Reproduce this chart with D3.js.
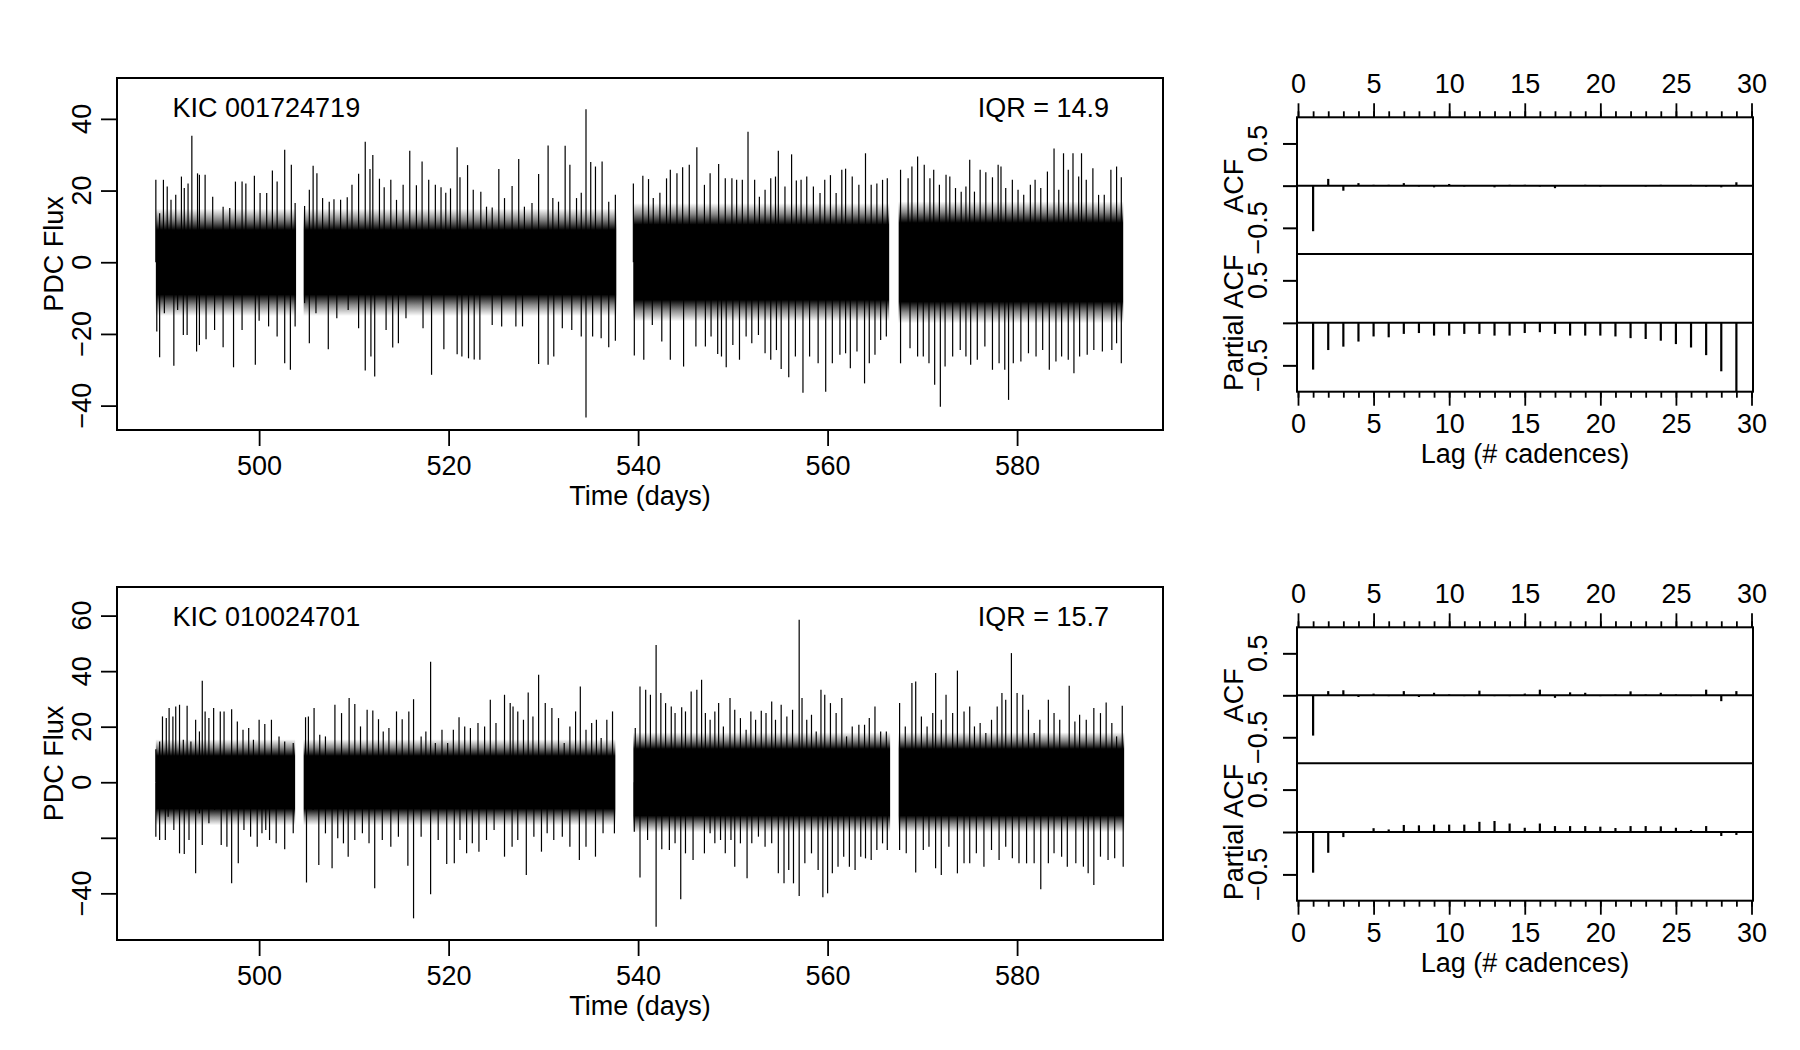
<!DOCTYPE html>
<html lang="en">
<head>
<meta charset="UTF-8">
<title>KIC light curves and ACF</title>
<script src="https://cdn.jsdelivr.net/npm/d3@7"></script>
<style>
  body { margin: 0; background: #fff; }
  svg { display: block; font-family: "Liberation Sans", Arial, Helvetica, sans-serif; }
</style>
</head>
<body>
<svg id="chart" width="1800" height="1050"></svg>
<script>
// ---- data ----
var timeTicks = [500, 520, 540, 560, 580];
var lagMajor = [0, 5, 10, 15, 20, 25, 30];
var lagMinor = d3.range(0, 31);
var lags = d3.range(1, 30);

var starNames = ["KIC 001724719", "KIC 010024701"];
var iqrLabels = ["IQR = 14.9", "IQR = 15.7"];

// observed stretches [start, end] in days
var segments1 = [[489.1, 503.9], [504.7, 537.7], [539.5, 566.5], [567.5, 591.2]];
var segments2 = [[489.1, 503.8], [504.7, 537.6], [539.5, 566.6], [567.5, 591.3]];
// half-width of the solid part of the scatter per stretch
var core1 = [9, 9, 10.5, 11];
var core2 = [9.5, 9.5, 12, 12];

// upper and lower excursions [time, flux]
var peaks1 = [[489.1,23.0],[489.5,13.7],[489.9,23.0],[490.3,21.1],[490.7,17.4],[491.2,18.8],[491.8,23.9],[492.1,20.7],[492.5,22.0],[492.9,35.3],[493.5,24.8],[493.7,24.4],[494.3,24.4],[495.1,18.3],[496.2,15.5],[496.9,15.1],[497.5,22.5],[498.2,22.5],[498.6,22.0],[499.5,24.1],[500.1,19.3],[500.8,19.3],[501.4,25.6],[501.9,22.5],[502.7,31.4],[503.4,27.2],[503.8,16.5],
  [504.8,15.7],[505.3,20.2],[505.7,26.9],[506.1,24.8],[506.7,17.9],[507.4,16.9],[507.9,17.6],[508.6,17.4],[509.3,18.1],[509.8,21.6],[510.5,24.7],[511.2,33.6],[511.7,26.0],[512.0,29.9],[512.7,23.3],[513.2,20.9],[513.9,23.0],[514.5,17.4],[515.2,21.6],[515.9,31.1],[516.6,21.5],[517.2,28.1],[517.9,23.0],[518.6,21.6],[519.2,20.9],[519.7,19.4],[520.2,20.6],[520.9,32.1],[521.2,23.7],[522.0,27.1],[522.6,20.2],[523.4,19.7],[524.0,15.5],[524.6,15.3],[525.3,26.0],[525.9,17.9],[526.7,21.3],[527.4,28.8],[528.0,15.5],[528.8,16.5],[529.5,24.6],[530.5,32.6],[531.0,17.9],[531.6,16.9],[532.3,32.5],[532.8,27.2],[533.5,17.9],[534.0,19.4],[534.5,42.7],[535.0,28.0],[535.5,26.7],[536.2,28.1],[536.9,16.9],[537.6,18.8],
  [539.5,22.0],[540.5,24.1],[541.1,23.2],[541.6,17.9],[542.3,19.4],[543.0,23.4],[543.4,25.8],[544.1,24.8],[544.7,26.5],[545.4,27.2],[546.2,32.1],[547.0,21.6],[547.6,24.8],[548.5,27.4],[549.2,23.4],[549.9,23.4],[550.4,23.0],[551.0,23.0],[551.6,36.4],[552.3,23.0],[552.8,18.3],[553.4,20.2],[554.0,23.4],[554.5,23.9],[554.8,31.1],[555.5,21.1],[556.2,30.1],[556.7,22.8],[557.2,23.0],[557.8,23.9],[558.5,21.1],[559.2,19.3],[559.7,23.0],[560.3,24.3],[560.9,19.3],[561.5,25.8],[561.9,26.1],[562.6,23.9],[563.3,21.6],[564.0,30.4],[564.6,21.6],[565.2,22.0],[565.8,23.0],[566.3,23.4],
  [567.7,25.8],[568.5,23.4],[568.9,26.7],[569.5,29.5],[570.2,27.2],[570.8,23.4],[571.2,25.8],[571.8,21.6],[572.5,24.4],[572.9,23.9],[573.5,20.7],[574.1,19.7],[574.6,21.1],[575.0,28.6],[575.5,19.7],[576.1,25.8],[576.7,25.1],[577.4,23.7],[578.0,27.2],[578.3,26.7],[578.8,20.7],[579.5,23.0],[580.1,20.2],[580.7,18.8],[581.4,21.6],[581.9,23.0],[582.5,20.7],[583.2,25.3],[583.9,31.7],[584.4,20.2],[584.9,30.4],[585.4,25.8],[585.9,30.4],[586.5,23.9],[586.8,30.4],[587.3,23.0],[588.0,26.2],[588.6,18.8],[589.2,18.8],[589.9,25.8],[590.5,26.7],[591.0,23.7]];

var troughs1 = [[489.2,-19.3],[489.5,-26.5],[490.0,-14.2],[491.0,-28.9],[491.4,-13.3],[492.0,-20.3],[492.4,-20.3],[493.4,-24.9],[493.7,-23.1],[494.4,-21.5],[495.3,-18.9],[496.2,-23.7],[497.3,-29.3],[498.2,-18.9],[499.6,-28.6],[500.0,-16.3],[501.0,-17.9],[501.9,-20.7],[502.7,-28.2],[503.3,-30.0],[503.8,-17.9],
  [504.8,-11.4],[505.3,-22.6],[506.0,-14.2],[507.3,-24.3],[508.2,-15.6],[509.4,-13.3],[510.5,-18.4],[511.2,-30.2],[511.8,-26.3],[512.2,-31.9],[513.4,-18.9],[514.1,-23.8],[514.7,-22.6],[515.5,-15.6],[517.3,-18.4],[518.2,-31.4],[519.5,-24.3],[520.9,-25.7],[521.4,-26.3],[522.1,-26.8],[522.7,-27.1],[523.3,-27.2],[524.6,-17.5],[525.6,-17.9],[527.1,-17.9],[527.8,-17.9],[529.5,-28.4],[530.5,-28.6],[531.1,-26.3],[532.0,-18.4],[533.0,-18.9],[534.0,-20.7],[534.5,-43.3],[535.2,-20.7],[536.1,-21.2],[536.9,-23.7],[537.6,-21.9],
  [539.6,-26.0],[540.6,-27.2],[541.5,-17.5],[542.5,-22.1],[543.4,-27.2],[544.8,-29.1],[546.1,-23.5],[547.1,-23.5],[547.7,-20.7],[548.4,-25.6],[548.8,-26.3],[549.3,-29.3],[550.0,-23.1],[550.7,-27.2],[551.4,-20.7],[552.0,-22.6],[552.7,-20.3],[553.4,-25.4],[554.0,-27.2],[554.6,-24.5],[555.1,-29.8],[555.9,-32.1],[556.6,-26.3],[557.4,-36.4],[558.1,-26.3],[559.0,-28.2],[559.8,-36.1],[560.5,-28.2],[561.3,-25.8],[561.9,-25.4],[562.4,-29.6],[563.1,-24.9],[563.9,-33.8],[564.4,-28.2],[565.0,-25.8],[565.6,-21.7],[566.2,-20.7],
  [567.7,-28.2],[568.7,-24.0],[569.5,-26.3],[570.1,-26.3],[570.7,-28.2],[571.3,-34.2],[571.9,-40.3],[572.4,-29.1],[573.2,-26.3],[574.0,-24.5],[574.6,-26.3],[575.1,-28.6],[575.8,-27.2],[576.6,-23.5],[577.4,-30.0],[578.1,-28.2],[578.7,-30.0],[579.1,-38.4],[579.6,-28.2],[580.4,-27.7],[581.2,-25.4],[582.0,-26.3],[582.7,-24.5],[583.4,-30.0],[584.1,-27.7],[584.7,-26.3],[585.4,-27.2],[586.0,-31.0],[586.6,-26.3],[587.4,-25.8],[588.1,-24.5],[589.0,-24.9],[590.0,-24.5],[590.5,-22.6],[591.0,-28.2]];

var peaks2 = [[489.1,11.9],[489.5,14.7],[489.8,23.7],[490.2,23.1],[490.5,26.7],[490.9,23.7],[491.2,27.3],[491.6,27.9],[492.0,15.3],[492.4,27.5],[492.8,14.7],[493.3,22.5],[493.7,18.3],[494.0,36.5],[494.3,25.5],[494.7,23.1],[495.2,26.7],[495.9,25.5],[496.3,25.5],[497.1,26.3],[497.7,21.9],[498.3,18.9],[498.9,19.5],[499.4,15.3],[500.0,22.5],[500.6,21.0],[501.3,22.5],[502.1,16.5],[502.7,14.7],[503.6,14.1],
  [504.9,23.4],[505.2,23.7],[505.8,26.7],[506.4,17.1],[507.0,16.5],[508.0,27.9],[508.7,24.9],[509.5,30.3],[510.1,28.2],[510.7,20.1],[511.4,26.1],[512.0,25.8],[512.6,22.7],[513.1,18.3],[513.7,19.5],[514.5,25.5],[515.1,22.7],[515.8,25.5],[516.3,29.9],[517.1,16.5],[517.6,18.3],[518.1,43.4],[518.6,14.1],[519.3,18.9],[519.9,14.1],[520.5,18.9],[521.1,23.4],[521.7,20.1],[522.3,19.5],[523.1,21.3],[523.8,20.1],[524.4,29.7],[525.0,21.3],[525.9,31.5],[526.5,28.5],[526.8,27.3],[527.3,25.5],[527.9,22.5],[528.4,32.3],[528.9,23.7],[529.5,38.7],[530.2,28.5],[530.9,26.7],[531.6,23.1],[532.2,14.1],[532.8,20.1],[533.4,25.5],[533.9,34.5],[534.5,18.9],[535.1,21.3],[535.6,22.5],[536.1,15.9],[536.7,22.5],[537.3,25.5],
  [539.7,19.5],[540.2,34.5],[540.8,33.3],[541.3,31.5],[541.9,49.4],[542.4,32.1],[542.9,28.5],[543.5,27.3],[543.9,24.9],[544.6,27.0],[545.0,25.5],[545.6,32.7],[546.2,33.3],[546.7,36.9],[547.1,24.9],[547.6,22.5],[548.1,25.5],[548.5,28.5],[549.0,20.1],[549.7,30.3],[550.2,26.1],[550.8,23.1],[551.4,18.9],[551.9,25.5],[552.4,22.5],[553.0,25.7],[553.5,24.9],[554.1,29.1],[554.5,22.5],[555.1,27.9],[555.7,23.7],[556.3,26.1],[557.0,58.5],[557.3,30.3],[557.8,22.5],[558.3,24.3],[558.8,18.3],[559.3,33.3],[559.7,31.5],[560.3,28.5],[560.9,24.9],[561.5,30.3],[562.0,16.5],[562.6,20.1],[563.3,20.7],[563.9,20.7],[564.4,23.1],[565.0,27.3],[565.6,18.3],[566.2,18.3],
  [567.6,28.5],[568.2,20.1],[568.9,35.7],[569.3,36.3],[569.9,23.7],[570.5,20.1],[571.1,24.9],[571.4,39.3],[572.0,22.5],[572.5,31.5],[573.2,24.9],[573.7,40.2],[574.4,25.5],[575.0,27.3],[575.5,20.1],[576.1,21.3],[576.7,17.7],[577.3,22.5],[577.9,27.3],[578.4,32.1],[578.8,29.7],[579.4,46.5],[580.0,32.1],[580.6,31.5],[581.2,26.1],[581.8,17.7],[582.4,22.5],[583.3,29.7],[583.9,24.9],[584.5,22.5],[585.5,34.7],[586.1,21.9],[586.6,24.3],[587.3,22.5],[588.1,26.7],[588.8,24.9],[589.4,28.7],[590.0,21.3],[590.5,16.5],[591.1,27.5]];

var troughs2 = [[489.1,-19.6],[489.5,-20.8],[490.1,-20.8],[490.4,-12.4],[491.0,-17.2],[491.6,-25.6],[492.1,-25.8],[492.6,-20.8],[493.3,-32.8],[493.7,-11.2],[494.0,-22.6],[494.7,-14.8],[495.3,-10.0],[496.0,-22.6],[496.6,-23.2],[497.1,-36.4],[497.8,-29.2],[498.4,-17.2],[499.1,-19.6],[499.8,-23.2],[500.3,-18.4],[500.7,-17.2],[501.1,-20.8],[501.8,-22.0],[502.7,-24.1],[503.6,-18.4],
  [505.0,-36.1],[505.7,-10.0],[506.3,-29.8],[507.0,-18.4],[507.7,-31.0],[508.3,-20.2],[508.9,-22.0],[509.4,-26.8],[510.1,-20.8],[510.9,-18.4],[511.6,-22.0],[512.2,-38.2],[513.0,-20.8],[513.9,-23.2],[514.7,-19.6],[515.7,-30.1],[516.3,-49.0],[517.1,-19.6],[518.1,-40.3],[518.9,-20.8],[519.8,-29.4],[520.6,-29.2],[521.2,-20.8],[521.9,-25.6],[522.5,-22.0],[523.2,-25.0],[524.0,-20.8],[524.8,-17.2],[525.9,-26.8],[526.7,-23.2],[527.3,-20.8],[528.2,-33.4],[529.0,-19.6],[529.8,-25.0],[530.4,-18.4],[531.1,-20.8],[532.0,-19.6],[532.8,-23.2],[533.8,-28.0],[534.5,-23.2],[535.5,-26.8],[536.3,-18.4],[537.5,-18.4],
  [539.6,-17.8],[540.2,-34.3],[541.0,-20.8],[541.9,-52.0],[542.5,-24.1],[543.3,-24.4],[543.9,-22.0],[544.5,-42.1],[545.0,-25.6],[545.8,-28.0],[547.0,-25.6],[547.6,-18.4],[548.1,-22.0],[548.7,-20.8],[549.2,-25.6],[549.8,-20.8],[550.2,-30.4],[550.8,-22.0],[551.5,-34.6],[552.0,-22.0],[552.7,-19.6],[553.4,-23.2],[554.1,-22.0],[554.8,-32.8],[555.4,-36.4],[555.9,-31.6],[556.4,-36.4],[557.0,-41.0],[557.6,-29.2],[558.3,-25.6],[559.0,-31.6],[559.5,-41.4],[560.0,-40.0],[560.5,-32.8],[561.1,-30.4],[561.7,-26.8],[562.3,-30.4],[562.9,-31.6],[563.5,-26.8],[564.0,-27.4],[564.6,-28.0],[565.2,-24.4],[565.8,-22.0],[566.3,-24.4],
  [567.6,-24.4],[568.3,-25.6],[569.3,-32.5],[570.1,-24.4],[570.7,-23.2],[571.4,-31.0],[572.0,-33.4],[572.8,-23.2],[573.7,-32.8],[574.4,-29.2],[575.0,-29.2],[575.7,-25.6],[576.5,-30.4],[577.3,-24.4],[578.1,-28.0],[578.8,-23.2],[579.5,-27.4],[580.2,-29.2],[581.0,-29.2],[581.8,-29.2],[582.5,-38.5],[583.3,-29.2],[583.9,-25.6],[584.7,-26.8],[585.3,-30.4],[586.2,-29.2],[587.0,-30.4],[587.5,-32.8],[588.1,-37.0],[588.8,-26.8],[589.6,-28.0],[590.3,-27.4],[591.2,-30.4]];

// autocorrelations, lags 1..29
var acf1 = [-0.54, 0.08, -0.06, 0.03, 0.01, 0.01, 0.03, -0.01, -0.02, 0.02, -0.01, 0.00, -0.02, 0.01, 0.01, -0.01, -0.03, 0.00, 0.01, -0.01, 0.00, 0.00, -0.01, 0.01, 0.00, 0.01, -0.01, -0.02, 0.04];
var pacf1 = [-0.55, -0.32, -0.28, -0.22, -0.16, -0.17, -0.13, -0.12, -0.15, -0.15, -0.13, -0.13, -0.15, -0.15, -0.12, -0.11, -0.13, -0.15, -0.15, -0.15, -0.16, -0.18, -0.19, -0.21, -0.25, -0.29, -0.38, -0.57, -0.81];
var acf2 = [-0.48, 0.05, 0.06, -0.02, 0.02, -0.01, 0.05, -0.02, 0.03, 0.01, -0.01, 0.055, -0.01, -0.01, 0.02, 0.067, -0.03, 0.035, 0.03, -0.01, 0.01, 0.047, 0.01, 0.03, 0.01, -0.01, 0.067, -0.07, 0.05];
var pacf2 = [-0.48, -0.245, -0.06, 0.01, 0.045, 0.03, 0.083, 0.079, 0.087, 0.087, 0.087, 0.12, 0.13, 0.10, 0.05, 0.10, 0.07, 0.07, 0.07, 0.063, 0.047, 0.07, 0.07, 0.067, 0.05, 0.024, 0.07, -0.047, -0.035];

// ---- drawing ----
var svg = d3.select("#chart");
svg.append("rect").attr("width", 1800).attr("height", 1050).attr("fill", "#fff");
var defs = svg.append("defs");
var FS = 27;
var FADE = 6;   // flux units over which the dense scatter thins out
var gradId = 0;
var minus = function(v) { return String(v).replace("-", "\u2212"); };

function styleAxis(g, width) {
    g.select(".domain").remove();
    g.selectAll("line").attr("stroke", "#000").attr("stroke-width", width);
    g.selectAll("text").attr("font-size", FS).attr("font-family", null).attr("fill", "#000");
}

function bandGradient(c) {
    var id = "band" + (gradId++);
    var f = FADE / (2 * (c + FADE));
    var grad = defs.append("linearGradient").attr("id", id)
        .attr("x1", 0).attr("y1", 0).attr("x2", 0).attr("y2", 1);
    [[0, 0], [f * 0.5, 0.45], [f, 1], [1 - f, 1], [1 - f * 0.5, 0.45], [1, 0]].forEach(function(s) {
        grad.append("stop").attr("offset", s[0]).attr("stop-color", "#000").attr("stop-opacity", s[1]);
    });
    return "url(#" + id + ")";
}

function seriesPanel(p) {
    var x = d3.scaleLinear().domain([485.0, 595.4]).range([117, 1163]);
    var y = d3.scaleLinear().domain(p.yDomain).range([p.bottom, p.top]);
    var g = svg.append("g");

    // dense middle of the scatter in each stretch
    p.segments.forEach(function(s, i) {
        var h = p.core[i] + FADE;
        g.append("rect").attr("x", x(s[0])).attr("width", x(s[1]) - x(s[0]))
            .attr("y", y(h)).attr("height", y(-h) - y(h))
            .attr("fill", bandGradient(p.core[i]));
    });

    // each excursion as a spike out of the scatter
    var spikes = p.peaks.concat(p.troughs);
    g.selectAll("line.spike").data(spikes).enter().append("line")
        .attr("class", "spike")
        .attr("x1", function(d) { return x(d[0]); })
        .attr("x2", function(d) { return x(d[0]); })
        .attr("y1", y(0))
        .attr("y2", function(d) { return y(d[1]); })
        .attr("stroke", "#000").attr("stroke-width", 1.2);

    // box
    g.append("rect").attr("x", 117).attr("y", p.top).attr("width", 1163 - 117).attr("height", p.bottom - p.top)
        .attr("fill", "none").attr("stroke", "#000").attr("stroke-width", 2);

    var ax = g.append("g").attr("transform", "translate(0," + p.bottom + ")")
        .call(d3.axisBottom(x).tickValues(timeTicks).tickSize(16).tickPadding(9.5).tickSizeOuter(0));
    styleAxis(ax, 1.8);

    var ay = g.append("g").attr("transform", "translate(117,0)")
        .call(d3.axisLeft(y).tickValues(p.yTicks).tickSize(16).tickFormat("").tickSizeOuter(0));
    styleAxis(ay, 1.8);

    p.yTicks.forEach(function(v, i) {
        if (!p.yShow[i]) return;
        g.append("text").attr("transform", "translate(91," + y(v) + ") rotate(-90)")
            .attr("text-anchor", "middle").attr("font-size", FS).text(minus(v));
    });

    g.append("text").attr("transform", "translate(63," + (p.top + p.bottom) / 2 + ") rotate(-90)")
        .attr("text-anchor", "middle").attr("font-size", FS).text("PDC Flux");
    g.append("text").attr("x", 640).attr("y", p.bottom + 74.5)
        .attr("text-anchor", "middle").attr("font-size", FS).text("Time (days)");
    g.append("text").attr("x", 172.5).attr("y", p.top + 38.6).attr("font-size", FS).text(p.name);
    g.append("text").attr("x", 1109).attr("y", p.top + 38.6).attr("text-anchor", "end")
        .attr("font-size", FS).text(p.iqr);
}

function acfPanel(p) {
    var x = d3.scaleLinear().domain([0, 30]).range([1298, 1751.5]);
    var mid = p.mid;
    var yA = d3.scaleLinear().domain([-0.81, 0.81]).range([mid, p.top]);
    var yP = d3.scaleLinear().domain([-0.81, 0.81]).range([p.bottom, mid]);
    var g = svg.append("g");
    var left = 1297, right = 1753;

    [[yA, p.acf, "ACF", p.top, mid], [yP, p.pacf, "Partial ACF", mid, p.bottom]].forEach(function(s) {
        var y = s[0];
        g.append("line").attr("x1", left).attr("x2", right).attr("y1", y(0)).attr("y2", y(0))
            .attr("stroke", "#000").attr("stroke-width", 2);
        g.selectAll(null).data(s[1]).enter().append("line")
            .attr("x1", function(d, i) { return x(lags[i]); })
            .attr("x2", function(d, i) { return x(lags[i]); })
            .attr("y1", y(0))
            .attr("y2", function(d) { return y(Math.max(d, -0.81)); })
            .attr("stroke", "#000").attr("stroke-width", 2.2);
        var ay = g.append("g").attr("transform", "translate(" + left + ",0)")
            .call(d3.axisLeft(y).tickValues([-0.5, 0, 0.5]).tickSize(14).tickFormat("").tickSizeOuter(0));
        styleAxis(ay, 2);
        [-0.5, 0.5].forEach(function(v) {
            g.append("text").attr("transform", "translate(1267," + y(v) + ") rotate(-90)")
                .attr("text-anchor", "middle").attr("font-size", FS).text(minus(v));
        });
        g.append("text").attr("transform", "translate(1243," + (s[3] + s[4]) / 2 + ") rotate(-90)")
            .attr("text-anchor", "middle").attr("font-size", FS).text(s[2]);
    });

    g.append("rect").attr("x", left).attr("y", p.top).attr("width", right - left).attr("height", p.bottom - p.top)
        .attr("fill", "none").attr("stroke", "#000").attr("stroke-width", 2);
    g.append("line").attr("x1", left).attr("x2", right).attr("y1", mid).attr("y2", mid)
        .attr("stroke", "#000").attr("stroke-width", 2);

    var tMin = g.append("g").attr("transform", "translate(0," + p.top + ")")
        .call(d3.axisTop(x).tickValues(lagMinor).tickSize(6).tickFormat("").tickSizeOuter(0));
    styleAxis(tMin, 1.8);
    var tMaj = g.append("g").attr("transform", "translate(0," + p.top + ")")
        .call(d3.axisTop(x).tickValues(lagMajor).tickSize(14).tickPadding(10).tickSizeOuter(0));
    styleAxis(tMaj, 1.8);
    var bMin = g.append("g").attr("transform", "translate(0," + p.bottom + ")")
        .call(d3.axisBottom(x).tickValues(lagMinor).tickSize(6).tickFormat("").tickSizeOuter(0));
    styleAxis(bMin, 1.8);
    var bMaj = g.append("g").attr("transform", "translate(0," + p.bottom + ")")
        .call(d3.axisBottom(x).tickValues(lagMajor).tickSize(14).tickPadding(8.4).tickSizeOuter(0));
    styleAxis(bMaj, 1.8);

    g.append("text").attr("x", 1525).attr("y", p.bottom + 71.5).attr("text-anchor", "middle")
        .attr("font-size", FS).text("Lag (# cadences)");
}

seriesPanel({
    top: 78, bottom: 430, yDomain: [-46.8, 51.4],
    yTicks: [-40, -20, 0, 20, 40], yShow: [true, true, true, true, true],
    segments: segments1, core: core1, peaks: peaks1, troughs: troughs1,
    name: starNames[0], iqr: iqrLabels[0]
});
seriesPanel({
    top: 587, bottom: 940, yDomain: [-56.8, 70.3],
    yTicks: [-40, -20, 0, 20, 40, 60], yShow: [true, false, true, true, true, true],
    segments: segments2, core: core2, peaks: peaks2, troughs: troughs2,
    name: starNames[1], iqr: iqrLabels[1]
});
acfPanel({ top: 117.3, mid: 254, bottom: 391.7, acf: acf1, pacf: pacf1 });
acfPanel({ top: 627.3, mid: 763.3, bottom: 900.7, acf: acf2, pacf: pacf2 });
</script>
</body>
</html>
